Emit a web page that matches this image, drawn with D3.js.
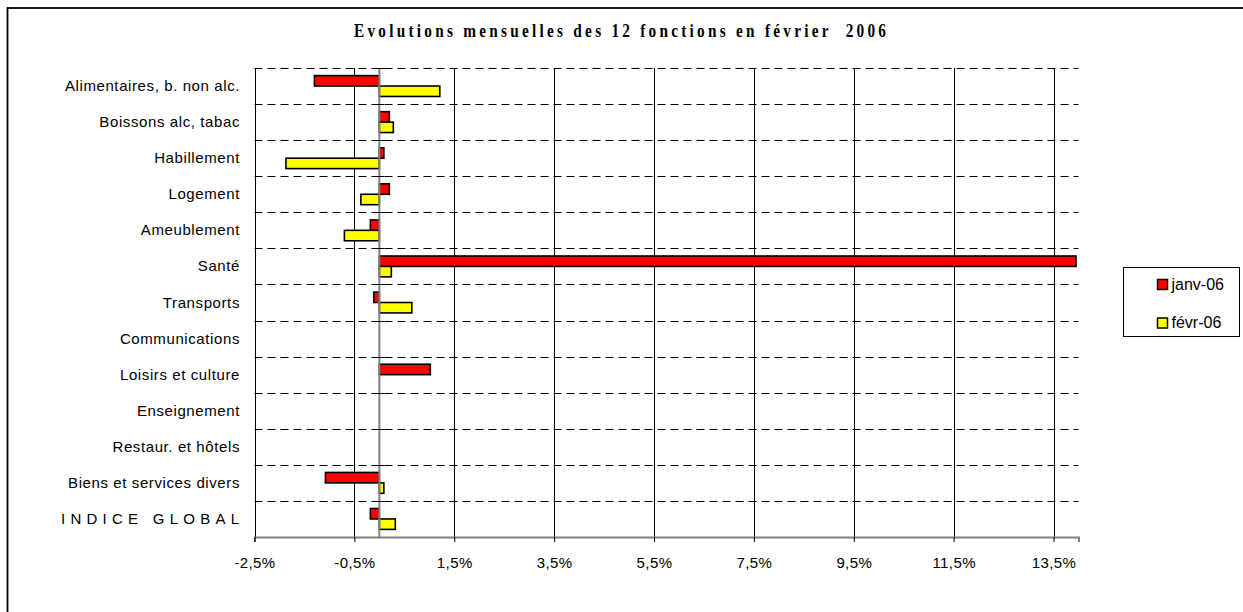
<!DOCTYPE html>
<html><head><meta charset="utf-8">
<script src="https://cdn.jsdelivr.net/npm/d3@7"></script>
<style>body{margin:0;background:#fff}svg{display:block}</style>
</head><body>
<script>
const categories = ["Alimentaires, b. non alc.","Boissons alc, tabac","Habillement","Logement","Ameublement","Santé","Transports","Communications","Loisirs et culture","Enseignement","Restaur. et hôtels","Biens et services divers","INDICE GLOBAL"];
const seriesNames = ["janv-06","févr-06"];
const janv = [-1.30, 0.20, 0.09, 0.20, -0.18, 13.95, -0.11, 0, 1.02, 0, 0, -1.08, -0.18];
const fevr = [1.21, 0.28, -1.87, -0.37, -0.70, 0.24, 0.65, 0, 0, 0, 0, 0.09, 0.32];
const tickValues = [-2.5,-0.5,1.5,3.5,5.5,7.5,9.5,11.5,13.5];
const colors = ["#FF0000","#FFFF00"];
const title = "Evolutions mensuelles des 12 fonctions en février  2006";

const W=1243,H=612;
const svg=d3.select("body").append("svg").attr("width",W).attr("height",H);
svg.append("rect").attr("x",7.5).attr("y",8).attr("width",W+10).attr("height",H+10)
  .attr("fill","#fff").attr("stroke","#000").attr("stroke-width",1.8);

svg.append("g").attr("transform","translate(354,37) scale(0.85,1)")
  .append("text").attr("x",0).attr("y",0).attr("textLength",532/0.85).attr("lengthAdjust","spacing")
  .attr("font-family","Liberation Serif, Times New Roman, serif").attr("font-weight","bold").attr("font-size",18)
  .style("white-space","pre").text(title);

const x=d3.scaleLinear().domain([-2.5,14]).range([254.5,1078.5]);
const y=d3.scaleBand().domain(categories).range([68,537]).padding(0);
const ys=d3.scaleBand().domain(seriesNames).range([0,y.bandwidth()]).paddingInner(0).paddingOuter(0.73);

const g=svg.append("g");
const bounds=categories.map(c=>y(c)).concat([y.range()[1]]);
g.selectAll("line.hg").data(bounds.slice(0,-1)).join("line")
  .attr("x1",x(-2.5)).attr("x2",x(14)).attr("y1",d=>Math.round(d)+0.5).attr("y2",d=>Math.round(d)+0.5)
  .attr("stroke","#000").attr("stroke-width",1).attr("stroke-dasharray","8,5");
g.selectAll("line.vg").data(tickValues).join("line")
  .attr("x1",d=>Math.round(x(d))+0.5).attr("x2",d=>Math.round(x(d))+0.5).attr("y1",68).attr("y2",537)
  .attr("stroke","#000").attr("stroke-width",1);

const data=[];
categories.forEach((c,i)=>{data.push({c,s:seriesNames[0],v:janv[i],k:0});data.push({c,s:seriesNames[1],v:fevr[i],k:1});});
g.selectAll("rect.bar").data(data.filter(d=>d.v!==0)).join("rect")
  .attr("x",d=>x(Math.min(0,d.v))).attr("width",d=>Math.abs(x(d.v)-x(0)))
  .attr("y",d=>y(d.c)+ys(d.s)).attr("height",ys.bandwidth())
  .attr("fill",d=>colors[d.k]).attr("stroke","#000").attr("stroke-width",1.6);

g.append("line").attr("x1",x(0)).attr("x2",x(0)).attr("y1",68).attr("y2",537).attr("stroke","#808080").attr("stroke-width",2);
g.selectAll("line.ct").data(bounds).join("line")
  .attr("x1",x(0)-5).attr("x2",x(0)+5).attr("y1",d=>Math.round(d)+0.5).attr("y2",d=>Math.round(d)+0.5)
  .attr("stroke","#000").attr("stroke-width",1);

const xAxis=d3.axisBottom(x).tickValues(tickValues).tickSize(5).tickPadding(15)
  .tickFormat(d=>d3.format(".1f")(d).replace("\u2212","-").replace(".",",")+"%");
const ax=svg.append("g").attr("transform","translate(0,537)").call(xAxis);
ax.select(".domain").attr("stroke","#808080").attr("stroke-width",2);
ax.selectAll(".tick line").attr("stroke","#000");
ax.selectAll("text").attr("font-family","Liberation Sans, Arial, sans-serif").attr("font-size",15)
  .attr("letter-spacing",0.4).attr("fill","#000");

const last=categories[categories.length-1];
svg.selectAll("text.cat").data(categories).join("text")
  .attr("x",d=>d===last?61:240).attr("y",d=>y(d)+y.bandwidth()/2+5)
  .attr("text-anchor",d=>d===last?"start":"end")
  .attr("font-family","Liberation Sans, Arial, sans-serif").attr("font-size",15)
  .attr("letter-spacing",d=>d===last?null:0.6)
  .attr("textLength",d=>d===last?178:null).attr("lengthAdjust","spacing")
  .text(d=>d);

const lg=svg.append("g");
lg.append("rect").attr("x",1123.5).attr("y",267.5).attr("width",116).attr("height",69)
  .attr("fill","#fff").attr("stroke","#000").attr("stroke-width",1);
const li=lg.selectAll("g.li").data(seriesNames).join("g")
  .attr("transform",(d,i)=>`translate(1157.5,${279.5+i*38.5})`);
li.append("rect").attr("width",10).attr("height",10).attr("fill",(d,i)=>colors[i]).attr("stroke","#000").attr("stroke-width",1.5);
li.append("text").attr("x",14).attr("y",10).attr("font-family","Liberation Sans, Arial, sans-serif").attr("font-size",16).text(d=>d);
</script>
</body></html>
